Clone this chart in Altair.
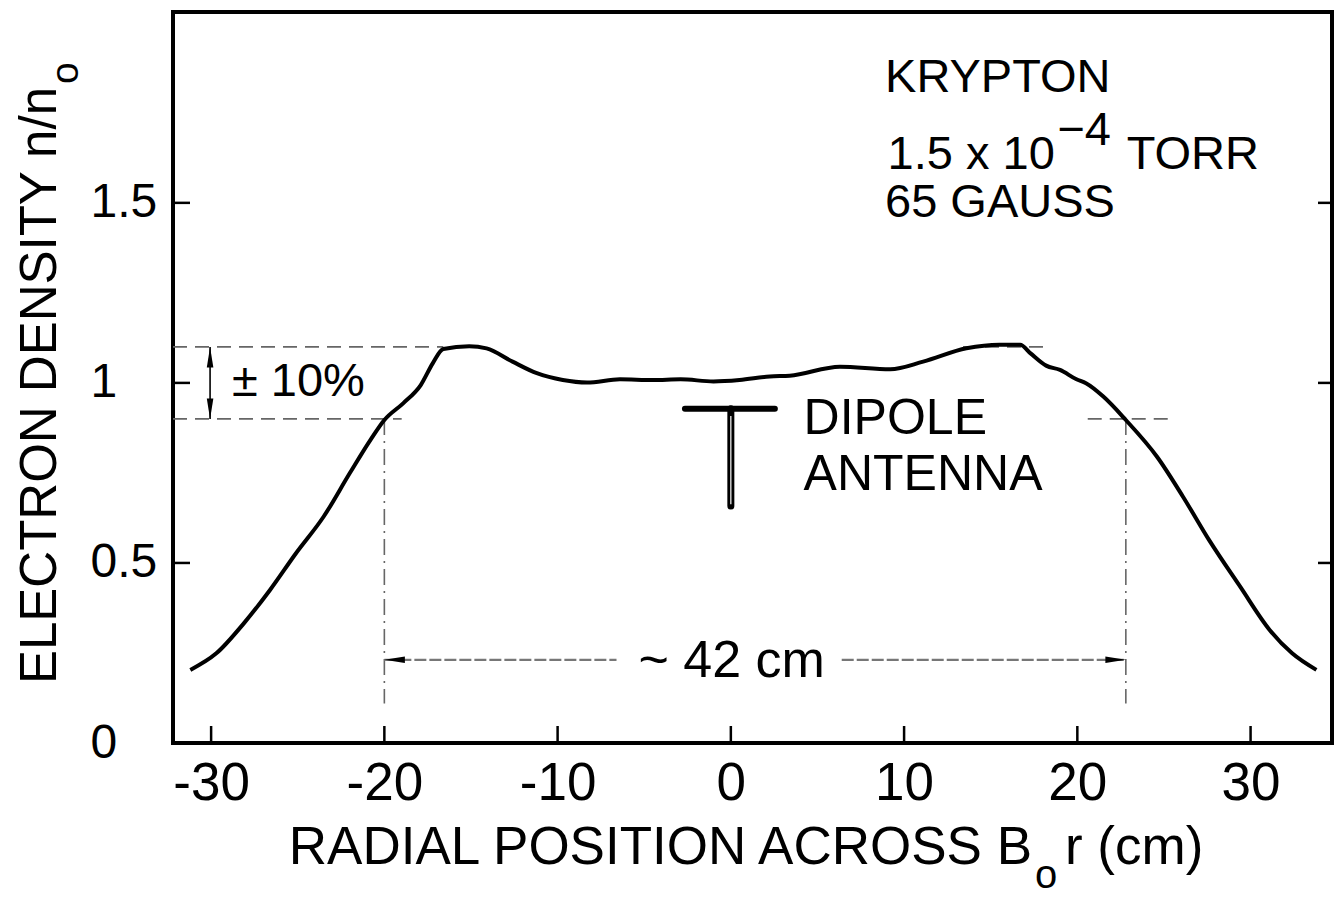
import altair as alt
import pandas as pd

# ---------------- data ----------------
r_cm = [-31.2, -29.7, -28.1, -26.6, -25.1, -23.5, -22.0, -20.8, -20.0, -18.9,
        -17.9, -17.2, -16.6, -15.1, -14.1, -12.6, -11.2, -9.7, -8.3, -6.4,
        -4.5, -2.9, -1.0, 0.5, 2.25, 3.4, 6.3, 9.2, 11.1, 13.6,
        15.5, 16.7, 17.3, 18.2, 19.0, 19.95, 20.5, 21.5, 22.8, 24.6,
        26.1, 27.6, 29.4, 31.1, 32.4, 33.8]
density = [0.203, 0.249, 0.333, 0.425, 0.527, 0.629, 0.749, 0.842, 0.897, 0.944,
           0.994, 1.055, 1.094, 1.102, 1.096, 1.059, 1.027, 1.008, 1.001, 1.010,
           1.008, 1.010, 1.004, 1.008, 1.018, 1.020, 1.045, 1.038, 1.059, 1.096,
           1.106, 1.106, 1.082, 1.048, 1.036, 1.010, 0.999, 0.962, 0.897, 0.795,
           0.684, 0.564, 0.434, 0.314, 0.249, 0.203]

x_ticks = [-30, -20, -10, 0, 10, 20, 30]
y_ticks = [0, 0.5, 1, 1.5]
inner_y_ticks = [0.5, 1, 1.5]
X_DOMAIN = [-32.2, 34.7]
Y_DOMAIN = [0, 2.03]

# +/-10 % band guides (dashed)
band_x1 = [-32.2, 13.4, -32.2, 20.6]
band_x2 = [-16.6, 18.3, -19.0, 25.4]
band_y = [1.1, 1.1, 0.9, 0.9]

# vertical guides at the 90 % points
edge_r = [-20.0, 22.8]
edge_top = [0.9, 0.9]
edge_bottom = [0.11, 0.11]

# width arrow (~42 cm)
span_x1 = [-20.0, 6.4]
span_x2 = [-6.6, 22.8]
span_y = [0.231, 0.231]

# +/-10 % vertical arrow
pm_r = -30.06
pm_low, pm_high = 0.9, 1.1

# dipole antenna symbol
ant_bar = (-2.65, 2.54, 0.928)
ant_stem = (0.0, 0.928, 0.658)

# annotation text (data coordinates)
note_text = ["KRYPTON", "1.5 x 10", "\u22124", "TORR", "65 GAUSS", "DIPOLE", "ANTENNA", "\u00b1 10%", "~ 42 cm"]
note_r = [8.9, 18.7, 18.85, 22.85, 8.9, 4.2, 4.2, -28.8, 0.05]
note_v = [1.847, 1.633, 1.70, 1.633, 1.50, 0.899, 0.743, 1.003, 0.229]
note_align = ["left", "right", "left", "left", "left", "left", "left", "left", "center"]
note_size = [47, 47, 47, 47, 47, 50, 50, 47, 52]

# axis titles, built from pieces so the subscripts can be lowered (pixels in plot frame)
xt_text = ["RADIAL POSITION ACROSS B", "o", "r (cm)"]
xt_px = [859, 862, 892]
xt_py = [836, 864, 836]
xt_size = [53, 40, 53]
xt_align = ["right", "left", "left"]

yt_text = ["ELECTRON DENSITY n/n", "o"]
yt_px = [-132, -107]
yt_py = [75, 72]
yt_size = [51, 39]
yt_align = ["right", "left"]

FONT = "Liberation Sans"
W, H = 1159, 731

xs = alt.Scale(domain=X_DOMAIN, nice=False, zero=False)
ys = alt.Scale(domain=Y_DOMAIN, nice=False, zero=False)

x_axis = alt.Axis(values=x_ticks, ticks=False, domain=False, grid=False,
                  labelExpr="toString(datum.value)", labelFontSize=53,
                  labelFont=FONT, labelColor="black", labelPadding=14,
                  labelFlush=False, labelOverlap=False, labelBound=False)
y_axis = alt.Axis(values=y_ticks, ticks=False, domain=False, grid=False,
                  format="~g", labelFontSize=48, labelFont=FONT,
                  labelColor="black", labelAlign="left", labelPadding=83,
                  labelBaseline="middle", labelFlush=False,
                  labelOverlap=False, labelBound=False)


def X(field):
    return alt.X(field, type="quantitative", scale=xs, axis=x_axis, title=None)


def Y(field):
    return alt.Y(field, type="quantitative", scale=ys, axis=y_axis, title=None)


curve = alt.Chart(pd.DataFrame({"r": r_cm, "n": density})).mark_line(
    color="black", strokeWidth=4, interpolate="monotone"
).encode(x=X("r"), y=Y("n"))

band = alt.Chart(pd.DataFrame({"x1": band_x1, "x2": band_x2, "y": band_y})).mark_rule(
    color="#666666", strokeWidth=1.8, strokeDash=[14, 8]
).encode(x=X("x1"), x2="x2", y=Y("y"))

edges = alt.Chart(pd.DataFrame({"x": edge_r, "y1": edge_top, "y2": edge_bottom})).mark_rule(
    color="#666666", strokeWidth=1.6, strokeDash=[16, 6, 2, 6]
).encode(x=X("x"), y=Y("y1"), y2="y2")

span = alt.Chart(pd.DataFrame({"x1": span_x1, "x2": span_x2, "y": span_y})).mark_rule(
    color="#777777", strokeWidth=2.2, strokeDash=[12, 3]
).encode(x=X("x1"), x2="x2", y=Y("y"))

pm_line = alt.Chart(pd.DataFrame({"x": [pm_r], "y1": [pm_low], "y2": [pm_high]})).mark_rule(
    color="black", strokeWidth=1.6
).encode(x=X("x"), y=Y("y1"), y2="y2")

arrow_shapes = ["M 0 0 L 2 -0.32 L 2 0.32 Z", "M 0 0 L -2 -0.32 L -2 0.32 Z",
                "M 0 0 L -0.32 2 L 0.32 2 Z", "M 0 0 L -0.32 -2 L 0.32 -2 Z"]
arrows = alt.Chart(pd.DataFrame({
    "x": [span_x1[0], span_x2[1], pm_r, pm_r],
    "y": [span_y[0], span_y[1], pm_high, pm_low],
    "shape": arrow_shapes,
})).mark_point(filled=True, color="black", opacity=1, size=420, strokeWidth=0).encode(
    x=X("x"), y=Y("y"), shape=alt.Shape("shape:N", scale=None)
)

bar = alt.Chart(pd.DataFrame({"x1": [ant_bar[0]], "x2": [ant_bar[1]], "y": [ant_bar[2]]})).mark_rule(
    color="black", strokeWidth=6, strokeCap="round"
).encode(x=X("x1"), x2="x2", y=Y("y"))
stem = alt.Chart(pd.DataFrame({"x": [ant_stem[0]], "y1": [ant_stem[1]], "y2": [ant_stem[2]]})).mark_rule(
    color="black", strokeWidth=7, strokeCap="round"
).encode(x=X("x"), y=Y("y1"), y2="y2")
stem_gap = alt.Chart(pd.DataFrame({"x": [ant_stem[0]], "y1": [ant_stem[1] - 0.02], "y2": [ant_stem[2] + 0.005]})).mark_rule(
    color="white", strokeWidth=1.2
).encode(x=X("x"), y=Y("y1"), y2="y2")

# inward ticks
left_ticks = alt.Chart(pd.DataFrame({"v": inner_y_ticks})).mark_rule(color="black", strokeWidth=2.5).encode(
    y=Y("v"), x=alt.value(0), x2=alt.value(17))
right_ticks = alt.Chart(pd.DataFrame({"v": inner_y_ticks})).mark_rule(color="black", strokeWidth=2.5).encode(
    y=Y("v"), x=alt.value(W - 14), x2=alt.value(W))
bottom_ticks = alt.Chart(pd.DataFrame({"r": x_ticks})).mark_rule(color="black", strokeWidth=2.5).encode(
    x=X("r"), y=alt.value(H - 17), y2=alt.value(H))

notes_df = pd.DataFrame({"t": note_text, "x": note_r, "y": note_v, "a": note_align, "s": note_size})
note_layers = []
for a in ["left", "right", "center"]:
    sub = notes_df[notes_df["a"] == a]
    if len(sub):
        note_layers.append(
            alt.Chart(sub).mark_text(font=FONT, baseline="middle", color="black", align=a).encode(
                x=X("x"), y=Y("y"), text="t:N", size=alt.Size("s:Q", scale=None)
            )
        )

title_layers = []
for texts, pxs, pys, sizes, aligns, ang in [
    (xt_text, xt_px, xt_py, xt_size, xt_align, 0),
    (yt_text, yt_px, yt_py, yt_size, yt_align, 270),
]:
    df = pd.DataFrame({"t": texts, "px": pxs, "py": pys, "s": sizes, "a": aligns})
    for a in ["left", "right"]:
        sub = df[df["a"] == a]
        if len(sub):
            title_layers.append(
                alt.Chart(sub).mark_text(font=FONT, baseline="middle", color="black",
                                         align=a, angle=ang).encode(
                    x=alt.X("px:Q", scale=None, axis=None),
                    y=alt.Y("py:Q", scale=None, axis=None),
                    text="t:N", size=alt.Size("s:Q", scale=None)
                )
            )

chart = alt.layer(
    band, edges, span, pm_line, arrows, bar, stem, stem_gap, curve,
    left_ticks, right_ticks, bottom_ticks, *note_layers, *title_layers
).resolve_scale(x="shared", y="shared").properties(
    width=W, height=H,
    background="white",
    autosize=alt.AutoSizeParams(type="none"),
    padding={"left": 165, "top": 4, "right": 4, "bottom": 152},
).configure_view(stroke="black", strokeWidth=4)

chart.save("out.html", embed_options={"renderer": "svg", "actions": False})
